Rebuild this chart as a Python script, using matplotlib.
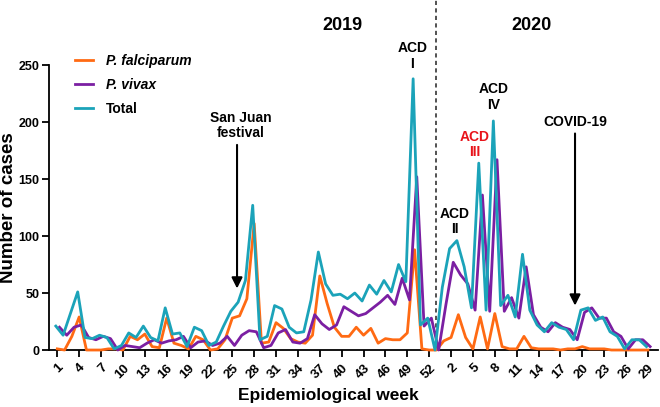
import matplotlib.pyplot as plt
import numpy as np

plt.rcParams['font.family'] = ['Liberation Sans', 'DejaVu Sans']
plt.rcParams['font.weight'] = 'bold'

# tick labels: 2019 weeks 1..52, then 2020 weeks (every 3rd)
labels_2019 = [str(w) for w in range(1, 53, 3)]
labels_2020 = [str(w) for w in range(2, 30, 3)]

# weekly cases (2019 wk1-52, a break point, 2020 wk1-29)
falciparum = [1, 0, 12, 29, 0, 0, 0, 1, 1, 0,
              12, 9, 14, 3, 2, 28, 6, 4, 1, 12,
              9, 0, 1, 9, 28, 30, 45, 111, 6, 7,
              24, 19, 10, 7, 6, 13, 65, 41, 20, 12,
              12, 20, 13, 19, 6, 10, 9, 9, 15, 88,
              1, 0, 0, 8, 11, 31, 11, 1, 29, 1,
              32, 3, 1, 1, 12, 2, 1, 1, 1, 0,
              1, 1, 3, 1, 1, 1, 0, 0, 0, 0, 0, 0]
vivax = [20, 13, 20, 22, 11, 9, 12, 10, 0, 4,
         3, 2, 6, 9, 6, 8, 9, 12, 2, 7,
         8, 4, 6, 12, 4, 13, 17, 16, 2, 4,
         15, 18, 7, 6, 10, 31, 23, 18, 22, 38,
         34, 30, 32, 37, 42, 48, 40, 63, 44, 152,
         21, 28, 0, 40, 77, 66, 58, 35, 136, 34,
         167, 34, 46, 28, 73, 31, 20, 16, 24, 20,
         18, 9, 33, 37, 28, 28, 16, 12, 1, 9, 9, 3]
total = [21, 13, 32, 51, 11, 10, 13, 11, 1, 4,
         15, 11, 21, 11, 8, 37, 14, 15, 3, 20,
         17, 4, 7, 21, 34, 42, 61, 127, 9, 12,
         39, 36, 20, 15, 16, 44, 86, 58, 48, 49,
         45, 50, 43, 57, 49, 61, 51, 75, 60, 238,
         22, 28, 0, 55, 89, 96, 73, 37, 164, 35,
         201, 39, 48, 29, 84, 35, 22, 16, 24, 20,
         18, 9, 35, 37, 26, 29, 16, 12, 1, 9, 9, 3]

x = np.arange(len(total))
ticks = list(range(0, 52, 3)) + list(range(54, 82, 3))

fig = plt.figure(figsize=(6.6, 4.07), dpi=100)
ax = fig.add_axes([0.0742, 0.140, 0.923, 0.700])

c_fal = '#FF6A13'
c_viv = '#7B1FA2'
c_tot = '#1BA3B9'
lw = 2.0
ax.plot(x, falciparum, color=c_fal, lw=lw, label='P. falciparum', clip_on=False, zorder=3)
ax.plot(x + 0.3, vivax, color=c_viv, lw=lw, label='P. vivax', clip_on=False, zorder=3)
ax.plot(x - 0.2, total, color=c_tot, lw=lw, label='Total', clip_on=False, zorder=4)

ax.set_xlim(-1.14, 82.4)
ax.set_ylim(0, 250)
ax.set_yticks([0, 50, 100, 150, 200, 250])
ax.set_xticks(ticks)
ax.set_xticklabels(labels_2019 + labels_2020, rotation=45, ha='right',
                   rotation_mode='anchor', fontsize=9.5, fontweight='bold')
ax.tick_params(axis='y', labelsize=9, width=1.3, length=5, pad=2)
ax.tick_params(axis='x', width=1.3, length=5)
for lab in ax.get_yticklabels():
    lab.set_fontweight('bold')
for s in ['top', 'right']:
    ax.spines[s].set_visible(False)
for s in ['left', 'bottom']:
    ax.spines[s].set_linewidth(1.3)

ax.set_ylabel('Number of cases', fontsize=13.5, fontweight='bold')
ax.yaxis.set_label_coords(-0.052, 0.5)
ax.set_xlabel('Epidemiological week', fontsize=12.5, fontweight='bold')
ax.xaxis.set_label_coords(0.458, -0.135)

# year separator
ax.plot([51.9, 51.9], [0, 307], color='#333333', lw=1.2,
        linestyle=(0, (2.5, 2)), clip_on=False, zorder=2)
ax.text(39.05, 285, '2019', fontsize=13, fontweight='bold', ha='center', va='center')
ax.text(65.1, 285, '2020', fontsize=13, fontweight='bold', ha='center', va='center')

# ACD annotations
ax.text(48.7, 258, 'ACD\nI', fontsize=10, fontweight='bold', ha='center', va='center', linespacing=1.1)
ax.text(54.5, 113, 'ACD\nII', fontsize=10, fontweight='bold', ha='center', va='center', linespacing=1.1)
ax.text(57.3, 180, 'ACD\nIII', fontsize=10, fontweight='bold', ha='center', va='center',
        linespacing=1.1, color='#E8141B')
ax.text(59.8, 222, 'ACD\nIV', fontsize=10, fontweight='bold', ha='center', va='center', linespacing=1.1)

arrow = dict(arrowstyle='-|>', color='black', lw=1.5, mutation_scale=16, shrinkA=0, shrinkB=0)
ax.text(25.1, 197, 'San Juan\nfestival', fontsize=10, fontweight='bold', ha='center', va='center',
        linespacing=1.1)
ax.annotate('', xy=(24.65, 54), xytext=(24.65, 180), arrowprops=arrow)
ax.text(71.0, 200, 'COVID-19', fontsize=10, fontweight='bold', ha='center', va='center')
ax.annotate('', xy=(71.0, 39), xytext=(71.0, 190), arrowprops=arrow)

leg = ax.legend(loc='upper left', bbox_to_anchor=(75 / 660, 1 - 54 / 407),
                bbox_transform=fig.transFigure, frameon=False, fontsize=10,
                handlelength=1.3, handletextpad=0.9, labelspacing=0.72, borderpad=0,
                borderaxespad=0)
for t in leg.get_texts():
    t.set_fontweight('bold')
    if t.get_text() != 'Total':
        t.set_fontstyle('italic')

fig.savefig('out.png', dpi=100)
